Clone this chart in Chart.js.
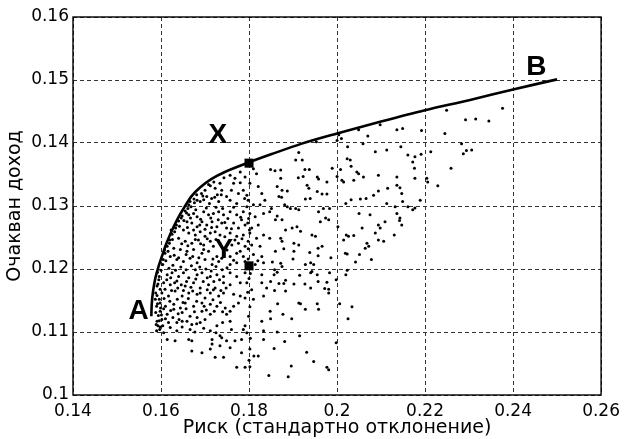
<!DOCTYPE html>
<html>
<head>
<meta charset="utf-8">
<script src="https://cdn.jsdelivr.net/npm/chart.js@4/dist/chart.umd.min.js"></script>
<style>
  html, body { margin: 0; padding: 0; background: #ffffff; }
  #wrap { width: 626px; height: 439px; }
</style>
</head>
<body>
<div id="wrap"><canvas id="c" width="626" height="439"></canvas></div>
<script>
// Axis ticks
const xTickValues = [0.14, 0.16, 0.18, 0.2, 0.22, 0.24, 0.26];
const xTickLabels = ['0.14', '0.16', '0.18', '0.2', '0.22', '0.24', '0.26'];
const yTickValues = [0.1, 0.11, 0.12, 0.13, 0.14, 0.15, 0.16];
const yTickLabels = ['0.1', '0.11', '0.12', '0.13', '0.14', '0.15', '0.16'];

// Efficient frontier from A (minimum risk) to B (maximum return)
const frontierRisk   = [0.1578, 0.1579, 0.1582, 0.1587, 0.1594, 0.1602, 0.1612, 0.1624, 0.1638, 0.1653, 0.1670, 0.1690, 0.1715, 0.1745, 0.1795, 0.1850, 0.1920, 0.2000, 0.2100, 0.2200, 0.2300, 0.2400, 0.2500];
const frontierReturn = [0.1125, 0.1145, 0.1165, 0.1185, 0.1203, 0.1220, 0.1240, 0.1260, 0.1280, 0.1298, 0.1316, 0.1330, 0.1343, 0.1354, 0.1368, 0.1382, 0.1399, 0.1415, 0.1434, 0.1452, 0.1468, 0.1485, 0.1501];

// Portfolios X (on the frontier) and Y (inside the feasible set), same risk
const markerRisk   = [0.18, 0.18];
const markerReturn = [0.1368, 0.1205];

// Letter labels
const labelNames  = ['A', 'B', 'X', 'Y'];
const labelRisk   = [0.1549, 0.2453, 0.1729, 0.1743];
const labelReturn = [0.1137, 0.1524, 0.1416, 0.1233];

// Random portfolios: [risk, expected return]
const portfolios = [
  [0.2249,0.1452],[0.2292,0.1437],[0.2136,0.1421],[0.2149,0.1423],[0.2192,0.1420],[0.2098,0.1429],[0.2049,0.1421],[0.2070,0.1411],
  [0.2004,0.1413],[0.2000,0.1404],[0.2010,0.1407],[0.1953,0.1402],[0.2059,0.1399],[0.2024,0.1394],[0.2087,0.1386],[0.2113,0.1389],
  [0.2145,0.1394],[0.2161,0.1381],[0.2177,0.1378],[0.2191,0.1382],[0.2172,0.1370],[0.2213,0.1386],[0.2245,0.1415],[0.2283,0.1399],
  [0.2287,0.1383],[0.2294,0.1388],[0.2259,0.1360],[0.2229,0.1332],[0.2204,0.1344],[0.2206,0.1338],[0.2176,0.1360],[0.2177,0.1344],
  [0.1913,0.1385],[0.1906,0.1373],[0.1921,0.1373],[0.1927,0.1358],[0.1937,0.1358],[0.1989,0.1360],[0.2008,0.1358],[0.2023,0.1375],
  [0.2030,0.1373],[0.2032,0.1363],[0.2045,0.1354],[0.2049,0.1351],[0.1849,0.1358],[0.1859,0.1356],[0.1872,0.1357],[0.1872,0.1344],
  [0.1912,0.1345],[0.1923,0.1347],[0.1955,0.1346],[0.1958,0.1343],[0.2000,0.1347],[0.2011,0.1341],[0.2015,0.1338],[0.2038,0.1341],
  [0.2060,0.1346],[0.1977,0.1338],[0.1864,0.1331],[0.1875,0.1325],[0.1887,0.1324],[0.1932,0.1333],[0.1936,0.1328],[0.1955,0.1323],
  [0.1966,0.1319],[0.1977,0.1319],[0.1868,0.1315],[0.1874,0.1314],[0.1928,0.1311],[0.1939,0.1312],[0.2032,0.1310],[0.2020,0.1304],
  [0.2053,0.1311],[0.2066,0.1312],[0.2083,0.1317],[0.2094,0.1324],[0.2115,0.1328],[0.2136,0.1333],[0.2143,0.1329],[0.2147,0.1320],
  [0.2149,0.1307],[0.2136,0.1346],[0.2094,0.1349],[0.2132,0.1299],[0.2136,0.1288],[0.2142,0.1277],[0.2147,0.1270],[0.2143,0.1281],
  [0.2161,0.1299],[0.2172,0.1294],[0.2177,0.1297],[0.2189,0.1309],[0.2113,0.1304],[0.2075,0.1286],[0.2050,0.1288],[0.2094,0.1270],
  [0.2098,0.1265],[0.2109,0.1275],[0.2057,0.1265],[0.2021,0.1254],[0.2026,0.1252],[0.2038,0.1253],[0.2087,0.1257],[0.2094,0.1246],
  [0.2106,0.1244],[0.2130,0.1254],[0.2068,0.1241],[0.2072,0.1236],[0.2015,0.1246],[0.2002,0.1267],[0.1981,0.1278],[0.1974,0.1281],
  [0.1962,0.1275],[0.1983,0.1296],[0.1958,0.1291],[0.1969,0.1296],[0.1906,0.1296],[0.1913,0.1294],[0.1881,0.1302],[0.1887,0.1299],
  [0.1894,0.1296],[0.1851,0.1296],[0.1847,0.1291],[0.1864,0.1284],[0.1860,0.1278],[0.1875,0.1278],[0.1898,0.1265],[0.1909,0.1267],
  [0.1917,0.1260],[0.1883,0.1262],[0.1847,0.1249],[0.1872,0.1249],[0.1875,0.1244],[0.1902,0.1241],[0.1913,0.1238],[0.1943,0.1254],
  [0.1951,0.1252],[0.1966,0.1236],[0.1957,0.1233],[0.2315,0.1438],[0.2345,0.1435],[0.2376,0.1455],[0.2306,0.1389],
  [0.1860,0.1228],[0.1879,0.1232],[0.1902,0.1228],[0.1938,0.1226],[0.1957,0.1221],[0.1986,0.1218],[0.2019,0.1225],[0.2023,0.1224],
  [0.2051,0.1223],[0.2064,0.1233],[0.2078,0.1215],[0.2042,0.1211],[0.1853,0.1211],[0.1872,0.1209],[0.1875,0.1204],[0.1900,0.1216],
  [0.1928,0.1207],[0.1940,0.1210],[0.1947,0.1207],[0.1858,0.1199],[0.1864,0.1195],[0.1857,0.1191],[0.1915,0.1190],[0.1940,0.1194],
  [0.1943,0.1196],[0.1955,0.1191],[0.1983,0.1194],[0.2023,0.1198],[0.2020,0.1191],[0.1998,0.1183],[0.1849,0.1180],[0.1868,0.1177],
  [0.1879,0.1177],[0.1883,0.1182],[0.1902,0.1176],[0.1927,0.1176],[0.1957,0.1180],[0.1977,0.1179],[0.1972,0.1169],[0.1981,0.1168],
  [0.1981,0.1162],[0.1940,0.1170],[0.1858,0.1166],[0.1883,0.1165],[0.1865,0.1145],[0.1913,0.1146],[0.1917,0.1145],[0.1955,0.1145],
  [0.1958,0.1136],[0.1928,0.1136],[0.2006,0.1145],[0.2034,0.1140],[0.1848,0.1133],[0.1877,0.1128],[0.1849,0.1121],[0.1897,0.1121],
  [0.2025,0.1121],[0.1864,0.1100],[0.1915,0.1094],[0.1881,0.1085],[0.1998,0.1083],[0.1857,0.1074],[0.1931,0.1068],[0.1947,0.1053],
  [0.1896,0.1046],[0.1977,0.1044],[0.1981,0.1040],[0.1845,0.1031],[0.1889,0.1029],
  [0.1810,0.1359],[0.1817,0.1351],[0.1780,0.1354],[0.1791,0.1346],[0.1757,0.1349],[0.1768,0.1344],[0.1765,0.1336],[0.1734,0.1336],
  [0.1723,0.1328],[0.1738,0.1325],[0.1712,0.1332],[0.1700,0.1325],[0.1704,0.1315],[0.1715,0.1312],[0.1682,0.1309],[0.1689,0.1307],
  [0.1666,0.1307],[0.1663,0.1302],[0.1749,0.1315],[0.1757,0.1309],[0.1776,0.1320],[0.1787,0.1325],[0.1795,0.1317],[0.1802,0.1336],
  [0.1798,0.1309],[0.1821,0.1331],[0.1829,0.1320],[0.1836,0.1309],[0.1731,0.1307],[0.1772,0.1304],[0.1810,0.1302],[0.1825,0.1302],
  [0.1655,0.1292],[0.1648,0.1284],[0.1640,0.1276],[0.1633,0.1265],[0.1625,0.1255],[0.1620,0.1246],[0.1614,0.1236],[0.1609,0.1225],[0.1605,0.1215],
  [0.1663,0.1286],[0.1674,0.1288],[0.1682,0.1283],[0.1697,0.1291],[0.1708,0.1286],[0.1719,0.1288],[0.1731,0.1291],[0.1742,0.1286],
  [0.1757,0.1291],[0.1772,0.1286],[0.1787,0.1291],[0.1802,0.1288],[0.1814,0.1283],[0.1833,0.1288],
  [0.1659,0.1275],[0.1670,0.1273],[0.1682,0.1267],[0.1693,0.1275],[0.1704,0.1270],[0.1716,0.1275],[0.1727,0.1267],[0.1738,0.1273],
  [0.1749,0.1265],[0.1765,0.1273],[0.1776,0.1265],[0.1791,0.1270],[0.1806,0.1265],[0.1821,0.1270],
  [0.1651,0.1262],[0.1663,0.1257],[0.1678,0.1254],[0.1689,0.1259],[0.1700,0.1252],[0.1712,0.1257],[0.1723,0.1259],[0.1734,0.1254],
  [0.1757,0.1257],[0.1772,0.1252],[0.1787,0.1254],[0.1802,0.1257],[0.1817,0.1249],[0.1833,0.1254],
  [0.1640,0.1249],[0.1655,0.1244],[0.1670,0.1241],[0.1685,0.1246],[0.1697,0.1238],[0.1712,0.1244],[0.1719,0.1236],[0.1734,0.1241],
  [0.1761,0.1238],[0.1776,0.1241],[0.1791,0.1236],[0.1806,0.1238],[0.1825,0.1236],
  [0.1629,0.1233],[0.1644,0.1231],[0.1659,0.1228],[0.1674,0.1231],[0.1693,0.1225],[0.1708,0.1228],[0.1727,0.1220],[0.1742,0.1225],
  [0.1757,0.1220],[0.1772,0.1225],[0.1787,0.1220],[0.1810,0.1223],[0.1829,0.1220],
  [0.1621,0.1220],[0.1636,0.1215],[0.1651,0.1212],[0.1666,0.1217],[0.1682,0.1210],[0.1700,0.1215],[0.1716,0.1207],[0.1731,0.1212],
  [0.1757,0.1207],[0.1772,0.1210],[0.1791,0.1212],[0.1814,0.1207],[0.1833,0.1210],
  [0.1595,0.1183],[0.1591,0.1173],[0.1588,0.1162],[0.1587,0.1152],[0.1590,0.1141],[0.1588,0.1131],[0.1591,0.1117],[0.1593,0.1110],[0.1597,0.1104],[0.1590,0.1102],
  [0.1614,0.1191],[0.1625,0.1194],[0.1640,0.1188],[0.1651,0.1194],[0.1663,0.1186],[0.1682,0.1191],[0.1693,0.1194],[0.1712,0.1188],
  [0.1727,0.1191],[0.1742,0.1188],[0.1757,0.1194],[0.1772,0.1188],[0.1791,0.1194],[0.1829,0.1191],
  [0.1606,0.1178],[0.1621,0.1175],[0.1636,0.1181],[0.1655,0.1173],[0.1674,0.1178],[0.1689,0.1170],[0.1708,0.1175],[0.1719,0.1167],
  [0.1742,0.1178],[0.1757,0.1175],[0.1780,0.1178],[0.1795,0.1178],[0.1806,0.1167],[0.1829,0.1178],[0.1840,0.1170],
  [0.1602,0.1162],[0.1617,0.1157],[0.1632,0.1165],[0.1648,0.1157],[0.1663,0.1162],[0.1682,0.1160],[0.1700,0.1154],[0.1712,0.1162],
  [0.1731,0.1157],[0.1742,0.1162],[0.1765,0.1160],[0.1780,0.1157],[0.1791,0.1154],[0.1810,0.1152],[0.1833,0.1157],
  [0.1598,0.1146],[0.1610,0.1141],[0.1629,0.1144],[0.1644,0.1138],[0.1655,0.1146],[0.1674,0.1141],[0.1693,0.1146],[0.1712,0.1144],
  [0.1727,0.1141],[0.1746,0.1138],[0.1765,0.1141],[0.1776,0.1146],
  [0.1598,0.1133],[0.1614,0.1128],[0.1629,0.1136],[0.1648,0.1131],[0.1666,0.1125],[0.1682,0.1123],[0.1693,0.1133],[0.1712,0.1128],
  [0.1749,0.1128],[0.1757,0.1133],
  [0.1602,0.1120],[0.1617,0.1115],[0.1636,0.1115],[0.1648,0.1117],[0.1670,0.1112],[0.1689,0.1115],[0.1727,0.1110],[0.1757,0.1117],
  [0.1791,0.1110],[0.1829,0.1117],
  [0.1606,0.1099],[0.1636,0.1102],[0.1666,0.1104],[0.1712,0.1102],[0.1734,0.1094],[0.1787,0.1104],[0.1795,0.1099],[0.1833,0.1102],
  [0.1614,0.1088],[0.1632,0.1086],[0.1663,0.1088],[0.1670,0.1086],[0.1716,0.1088],[0.1738,0.1091],[0.1749,0.1086],[0.1768,0.1086],
  [0.1783,0.1088],[0.1833,0.1088],
  [0.1716,0.1081],[0.1734,0.1078],[0.1670,0.1070],[0.1693,0.1067],[0.1712,0.1073],[0.1757,0.1075],[0.1802,0.1073],
  [0.1723,0.1060],[0.1742,0.1060],[0.1783,0.1067],[0.1811,0.1062],[0.1821,0.1062],
  [0.1772,0.1044],[0.1791,0.1044],[0.1802,0.1045],
  // dense band just right of the frontier
  [0.1600,0.1198],[0.1604,0.1207],[0.1611,0.1213],[0.1608,0.1230],[0.1616,0.1228],[0.1619,0.1241],[0.1626,0.1247],[0.1623,0.1262],
  [0.1631,0.1259],[0.1635,0.1270],[0.1642,0.1268],[0.1646,0.1281],[0.1652,0.1277],[0.1658,0.1289],[0.1661,0.1296],[0.1668,0.1299],
  [0.1675,0.1311],[0.1681,0.1318],[0.1692,0.1320],[0.1697,0.1310],[0.1708,0.1334],[0.1720,0.1338],[0.1728,0.1318],[0.1743,0.1345],
  [0.1592,0.1195],[0.1596,0.1188],[0.1593,0.1176],[0.1598,0.1168],[0.1591,0.1158],[0.1596,0.1152],[0.1592,0.1145],[0.1599,0.1138],
  [0.1594,0.1126],[0.1601,0.1127],[0.1596,0.1118],[0.1589,0.1112],[0.1598,0.1108],
  [0.1618,0.1201],[0.1627,0.1206],[0.1633,0.1198],[0.1645,0.1203],[0.1657,0.1199],[0.1669,0.1205],[0.1678,0.1199],[0.1688,0.1203],
  [0.1702,0.1200],[0.1714,0.1197],[0.1725,0.1204],[0.1739,0.1199],[0.1750,0.1202],
  [0.1613,0.1183],[0.1622,0.1186],[0.1631,0.1178],[0.1646,0.1175],[0.1658,0.1180],[0.1668,0.1171],[0.1679,0.1184],[0.1696,0.1180],
  [0.1705,0.1186],[0.1720,0.1180],[0.1733,0.1183],[0.1748,0.1170],
  [0.1609,0.1168],[0.1624,0.1166],[0.1638,0.1170],[0.1651,0.1166],[0.1672,0.1165],[0.1689,0.1162],[0.1705,0.1167],[0.1723,0.1170],
  [0.1736,0.1166],
  [0.1607,0.1153],[0.1620,0.1149],[0.1637,0.1152],[0.1650,0.1147],[0.1662,0.1153],[0.1681,0.1149],[0.1698,0.1141],[0.1718,0.1151],
  [0.1735,0.1147],
  [0.1606,0.1137],[0.1622,0.1134],[0.1639,0.1129],[0.1657,0.1137],[0.1676,0.1132],[0.1703,0.1135],[0.1721,0.1133],[0.1740,0.1132],
  [0.1610,0.1121],[0.1627,0.1123],[0.1641,0.1120],[0.1659,0.1117],[0.1681,0.1113],[0.1700,0.1120],[0.1740,0.1115],
  [0.1604,0.1110],[0.1621,0.1107],[0.1648,0.1108],[0.1677,0.1100],[0.1697,0.1106],[0.1725,0.1099],[0.1760,0.1104],
  [0.1630,0.1222],[0.1640,0.1218],[0.1657,0.1223],[0.1672,0.1220],[0.1686,0.1218],[0.1697,0.1231],[0.1718,0.1216],[0.1738,0.1217],
  [0.1750,0.1230],[0.1765,0.1214],[0.1780,0.1228],[0.1798,0.1216],[0.1820,0.1213],
  [0.1647,0.1240],[0.1661,0.1237],[0.1678,0.1247],[0.1690,0.1240],[0.1705,0.1248],[0.1725,0.1247],[0.1745,0.1251],[0.1768,0.1246],
  [0.1784,0.1248],[0.1798,0.1244],
  [0.1660,0.1266],[0.1674,0.1262],[0.1688,0.1270],[0.1700,0.1263],[0.1715,0.1266],[0.1730,0.1278],[0.1745,0.1274],[0.1760,0.1264],
  [0.1783,0.1278],[0.1797,0.1273],
  [0.1667,0.1281],[0.1679,0.1294],[0.1690,0.1279],[0.1703,0.1297],[0.1713,0.1281],[0.1725,0.1298],[0.1740,0.1296],[0.1752,0.1280],
  [0.1765,0.1298],[0.1781,0.1282],[0.1795,0.1299],
  [0.1676,0.1305],[0.1695,0.1316],[0.1710,0.1304],[0.1722,0.1314],[0.1737,0.1318],[0.1760,0.1325],[0.1780,0.1337],[0.1790,0.1312],
  [0.1799,0.1280],[0.1801,0.1262],[0.1798,0.1232],[0.1803,0.1193],[0.1800,0.1185],[0.1797,0.1163],[0.1802,0.1140],[0.1799,0.1125],
  [0.1803,0.1090],[0.1800,0.1055]
];

const ctxEl = document.getElementById('c');

// Full box round the plot area, MATLAB style
const boxPlugin = {
  id: 'axesBox',
  afterDraw(chart) {
    const { ctx, chartArea: a } = chart;
    ctx.save();
    ctx.strokeStyle = '#000';
    ctx.lineWidth = 1.4;
    ctx.strokeRect(a.left, a.top, a.right - a.left, a.bottom - a.top);
    ctx.restore();
  }
};

// Letters A, B, X, Y placed at data coordinates
const letterPlugin = {
  id: 'pointLetters',
  afterDatasetsDraw(chart) {
    const { ctx, scales: { x, y } } = chart;
    ctx.save();
    ctx.fillStyle = '#000';
    ctx.font = 'bold 28px "Liberation Sans", Arial, sans-serif';
    ctx.textAlign = 'center';
    ctx.textBaseline = 'alphabetic';
    labelNames.forEach((name, i) => {
      const px = x.getPixelForValue(labelRisk[i]);
      const py = y.getPixelForValue(labelReturn[i]);
      ctx.fillText(name, px, py + 10);
    });
    ctx.restore();
  }
};

const tickFont = { family: '"DejaVu Sans", sans-serif', size: 17 };
const titleFont = { family: '"DejaVu Sans", sans-serif', size: 19 };
const gridOpts = { color: '#333', lineWidth: 1, drawTicks: false };

new Chart(ctxEl, {
  type: 'scatter',
  data: {
    datasets: [
      {
        label: 'X, Y',
        data: markerRisk.map((r, i) => ({ x: r, y: markerReturn[i] })),
        pointStyle: 'rect',
        pointRadius: 6.4,
        backgroundColor: '#000',
        borderColor: '#000',
        borderWidth: 0
      },
      {
        label: 'Ефективна граница',
        data: frontierRisk.map((r, i) => ({ x: r, y: frontierReturn[i] })),
        showLine: true,
        borderColor: '#000',
        borderWidth: 2.6,
        pointRadius: 0,
        tension: 0.3
      },
      {
        label: 'Портфейли',
        data: portfolios.map(p => ({ x: p[0], y: p[1] })),
        pointRadius: 1.5,
        backgroundColor: '#000',
        borderWidth: 0
      }
    ]
  },
  options: {
    responsive: false,
    animation: false,
    devicePixelRatio: 1,
    layout: { padding: { left: 0, right: 21, top: 17, bottom: 0 } },
    plugins: { legend: { display: false }, tooltip: { enabled: false } },
    scales: {
      x: {
        type: 'linear',
        min: 0.14, max: 0.26,
        afterBuildTicks: s => { s.ticks = xTickValues.map(v => ({ value: v })); },
        afterFit: s => { s.height = 44; },
        grid: gridOpts,
        border: { display: false, dash: [4, 3] },
        ticks: {
          color: '#000', font: tickFont, padding: 6, maxRotation: 0,
          callback: (v, i) => xTickLabels[i]
        },
        title: {
          display: true, text: 'Риск (стандартно отклонение)',
          color: '#000', font: titleFont, padding: { top: -2, bottom: 0 }
        }
      },
      y: {
        type: 'linear',
        min: 0.1, max: 0.16,
        afterBuildTicks: s => { s.ticks = yTickValues.map(v => ({ value: v })); },
        afterFit: s => { s.width = 73; },
        grid: gridOpts,
        border: { display: false, dash: [4, 3] },
        ticks: {
          color: '#000', font: tickFont, padding: 4,
          callback: (v, i) => yTickLabels[i]
        },
        title: {
          display: true, text: 'Очакван доход',
          color: '#000', font: titleFont, padding: { top: 4, bottom: 0 }
        }
      }
    }
  },
  plugins: [boxPlugin, letterPlugin]
});
</script>
</body>
</html>
